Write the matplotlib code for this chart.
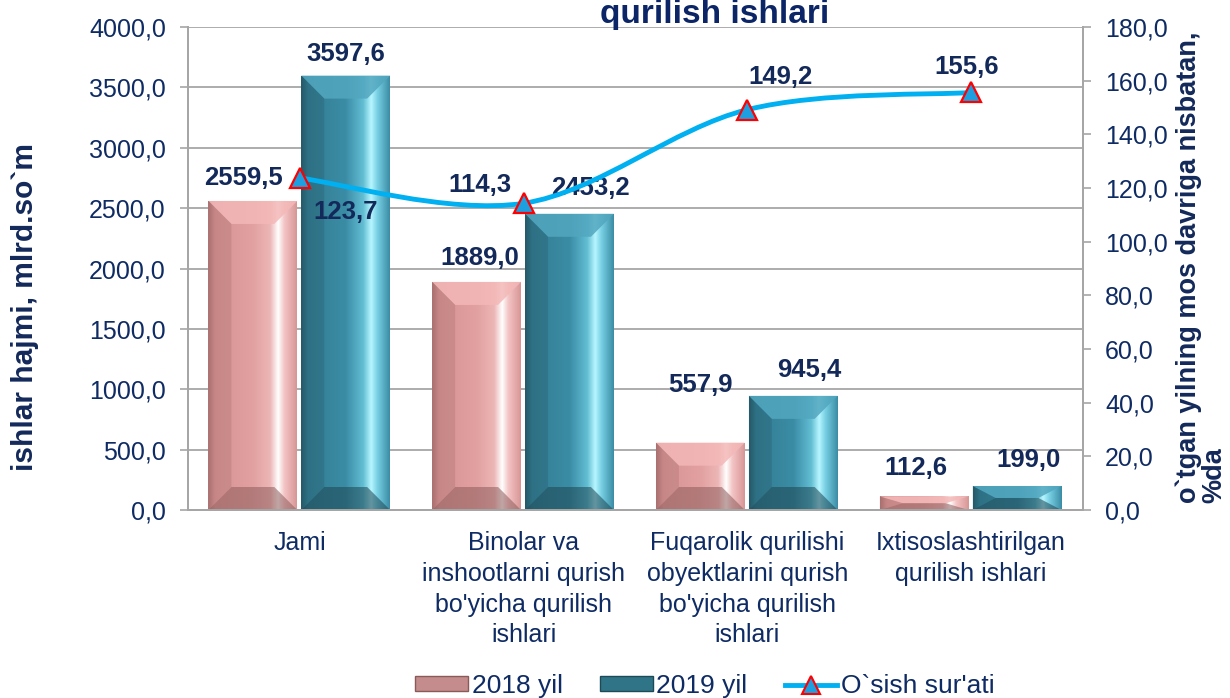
import numpy as np
import matplotlib.pyplot as plt
from matplotlib.path import Path
from matplotlib.patches import PathPatch, Polygon, Patch
from matplotlib.lines import Line2D
from matplotlib.colors import LinearSegmentedColormap

plt.rcParams['font.family'] = ['Liberation Sans', 'DejaVu Sans']

# data
categories = ["Jami",
              "Binolar va\ninshootlarni qurish\nbo'yicha qurilish\nishlari",
              "Fuqarolik qurilishi\nobyektlarini qurish\nbo'yicha qurilish\nishlari",
              "Ixtisoslashtirilgan\nqurilish ishlari"]
vol_2018 = [2559.5, 1889.0, 557.9, 112.6]
vol_2019 = [3597.6, 2453.2, 945.4, 199.0]
growth = [123.7, 114.3, 149.2, 155.6]
left_ticks = np.arange(0, 4001, 500)
right_ticks = np.arange(0, 181, 20)
series_names = ["2018 yil", "2019 yil", "O`sish sur'ati"]

navy = '#0F2B64'
lab_navy = '#13295A'
grid_c = '#A6A6A6'


def fmt(v):
    return f"{v:.1f}".replace('.', ',')


fig = plt.figure(figsize=(12.3, 6.98), dpi=100)
ax = fig.add_axes([188 / 1230, 1 - 510 / 698, (1083 - 188) / 1230, (510 - 27) / 698])
ax2 = ax.twinx()

x = np.arange(len(categories))
w = 0.397
ax.set_xlim(-0.5, 3.5)
ax.set_ylim(0, 4000)
ax2.set_ylim(0, 180)

# bevelled bars
pink = dict(stops=['#B07474', '#D89494', '#E2A0A0', '#EDB6B6', '#FFFFFF', '#F3C4C4', '#D89696'],
            top='#F4B8B8', bottom='#8E5C5C', legend='#C48C8C', edge='#8A5A5A')
teal = dict(stops=['#275F70', '#347E94', '#3A8CA5', '#62BDD3', '#B8F6FF', '#78D0E4', '#3A8CA5'],
            top='#52A7BF', bottom='#1D4652', legend='#2F7587', edge='#1E4A57')
pos = [0, 0.08, 0.5, 0.7, 0.79, 0.86, 1]

# pixel -> data sizes for the bevel
bx_full = 23 / 224.0
by_full = 23 / (483 / 4000.0)


def bevel_bars(xs, hs, st):
    cmap = LinearSegmentedColormap.from_list('g', list(zip(pos, st['stops'])))
    grad = np.linspace(0, 1, 256)[None, :]
    bars = ax.bar(xs, hs, w, color=st['stops'][2], zorder=2, linewidth=0)
    for b in bars:
        x0, h, bw = b.get_x(), b.get_height(), b.get_width()
        im = ax.imshow(grad, extent=[x0, x0 + bw, 0, h], aspect='auto',
                       cmap=cmap, zorder=2.1, interpolation='bilinear')
        im.set_clip_path(b)
        bx = min(bx_full, bw / 2)
        by = min(by_full, h / 2)
        ax.add_patch(Polygon([(x0, h), (x0 + bw, h), (x0 + bw - bx, h - by), (x0 + bx, h - by)],
                             closed=True, facecolor=st['top'], alpha=0.85, lw=0, zorder=2.2))
        ax.add_patch(Polygon([(x0, 0), (x0 + bw, 0), (x0 + bw - bx, by), (x0 + bx, by)],
                             closed=True, facecolor=st['bottom'], alpha=0.55, lw=0, zorder=2.2))
        ax.add_patch(Polygon([(x0, 0), (x0 + bx, by), (x0 + bx, h - by), (x0, h)],
                             closed=True, facecolor=st['bottom'], alpha=0.22, lw=0, zorder=2.2))
    return bars


bevel_bars(x - 0.21, vol_2018, pink)
bevel_bars(x + 0.205, vol_2019, teal)
ax.set_xlim(-0.5, 3.5)
ax.set_ylim(0, 4000)

# bar labels (offsets in px)
off_2018 = [(-9, 23), (3, 24), (0, 58), (-8, 28)]
off_2019 = [(0, 22), (21, 26), (16, 26), (12, 26)]
for xs, vals, offs in [(x - 0.21, vol_2018, off_2018), (x + 0.205, vol_2019, off_2019)]:
    for xi, v, (dx, dy) in zip(xs, vals, offs):
        ax.annotate(fmt(v), (xi, v), xytext=(dx * 0.72, dy * 0.72), textcoords='offset points',
                    ha='center', va='center', fontsize=18.5, fontweight='bold', color=lab_navy, zorder=5)

# smoothed growth line (bezier through the points)
pts = np.column_stack([x, growth]).astype(float)
ext = np.vstack([pts[0], pts, pts[-1]])
verts = [tuple(pts[0])]
codes = [Path.MOVETO]
for i in range(len(pts) - 1):
    p0, p1, p2, p3 = ext[i], ext[i + 1], ext[i + 2], ext[i + 3]
    c1 = p1 + (p2 - p0) / 6
    c2 = p2 - (p3 - p1) / 6
    verts += [tuple(c1), tuple(c2), tuple(p2)]
    codes += [Path.CURVE4] * 3
ax2.add_patch(PathPatch(Path(verts, codes), facecolor='none', edgecolor='#00B0F0',
                        lw=3.5, zorder=3, capstyle='round'))
ax2.plot(x, growth, linestyle='none', marker='^', ms=14, mfc='#1E9FE0', mec='#FF0000',
         mew=1.6, zorder=4)

off_line = [(46, -34), (-44, 18), (33, 33), (-5, 25)]
for xi, v, (dx, dy) in zip(x, growth, off_line):
    ax2.annotate(fmt(v), (xi, v), xytext=(dx * 0.72, dy * 0.72), textcoords='offset points',
                 ha='center', va='center', fontsize=18.5, fontweight='bold', color=lab_navy, zorder=5)

# axes styling
ax.set_yticks(left_ticks)
ax.set_yticklabels([fmt(t) for t in left_ticks])
ax2.set_yticks(right_ticks)
ax2.set_yticklabels([fmt(t) for t in right_ticks])
ax.set_xticks(x)
ax.set_xticklabels(categories, linespacing=1.36)
ax.tick_params(axis='x', length=0, pad=15, labelsize=18, labelcolor=navy)
ax.tick_params(axis='y', length=6, width=1.2, color=grid_c, pad=10, labelsize=18, labelcolor=navy)
ax2.tick_params(axis='y', length=6, width=1.2, color=grid_c, pad=10, labelsize=18, labelcolor=navy)
ax.grid(axis='y', color=grid_c, lw=1.3)
ax.set_axisbelow(True)
for a in (ax, ax2):
    a.spines['top'].set_visible(False)
    for s in ('left', 'right', 'bottom'):
        a.spines[s].set_color(grid_c)
        a.spines[s].set_linewidth(1.3)

# titles and axis names
fig.text(715 / 1230, 1 - 23 / 698, "qurilish ishlari", ha='center', va='baseline',
         fontsize=24, fontweight='bold', color='#0B2566')
fig.text(25 / 1230, 1 - 307 / 698, "ishlar hajmi, mlrd.so`m", rotation=90, ha='center', va='center',
         fontsize=21.5, fontweight='bold', color=lab_navy)
fig.text(1176 / 1230, 1 - 503 / 698, "o`tgan yilning mos davriga nisbatan,\n%da", rotation=90,
         ha='left', va='bottom', multialignment='left', linespacing=0.95,
         fontsize=19.5, fontweight='bold', color=lab_navy)

# legend
handles = [Patch(facecolor=pink['legend'], edgecolor=pink['edge']),
           Patch(facecolor=teal['legend'], edgecolor=teal['edge']),
           Line2D([], [], color='#00B0F0', lw=3.5, marker='^', ms=13, mfc='#1E9FE0',
                  mec='#FF0000', mew=1.5)]
leg = fig.legend(handles, series_names, loc='center', bbox_to_anchor=(705 / 1230, 1 - 686 / 698),
                 ncol=3, frameon=False, fontsize=19, handlelength=2.0, handleheight=0.5,
                 handletextpad=0.15, columnspacing=1.4, borderpad=0.2)
for t in leg.get_texts():
    t.set_color(navy)

fig.savefig('out.png', dpi=100)
